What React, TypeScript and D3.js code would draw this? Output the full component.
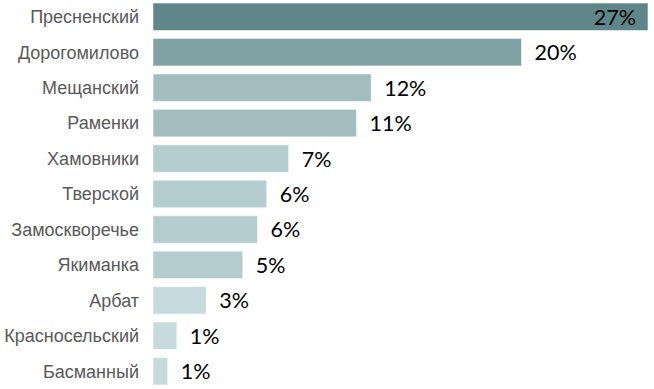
import React, { useEffect, useRef } from "react";
import * as d3 from "d3";

const districts = [
  "Пресненский",
  "Дорогомилово",
  "Мещанский",
  "Раменки",
  "Хамовники",
  "Тверской",
  "Замоскворечье",
  "Якиманка",
  "Арбат",
  "Красносельский",
  "Басманный",
];
const shares = [27, 20.1, 11.9, 11.1, 7.4, 6.2, 5.7, 4.9, 2.9, 1.3, 0.8];

const W = 654;
const H = 389;

const App = () => {
  const svgRef = useRef<SVGSVGElement>(null);

  useEffect(() => {
    const svg = d3.select(svgRef.current);
    svg.selectAll("*").remove();

    const y = d3.scaleBand<string>().domain(districts).range([3, 385]).paddingInner(0.224).paddingOuter(0);
    const x = d3.scaleLinear().domain([0, 27]).range([153, 648]);

    // colour steps by value, darker for the big ones
    const color = d3
      .scaleThreshold<number, string>()
      .domain([4, 10, 15, 25])
      .range(["#c7dbde", "#b5cdcf", "#a3bcbe", "#7fa3a4", "#5f8789"]);

    const rows = districts.map((name, i) => ({ name, value: shares[i] }));

    svg
      .append("g")
      .selectAll("rect")
      .data(rows)
      .join("rect")
      .attr("x", x(0))
      .attr("y", (d) => y(d.name)!)
      .attr("width", (d) => x(d.value) - x(0))
      .attr("height", y.bandwidth())
      .attr("fill", (d) => color(d.value))
      .attr("stroke", "#ffffff")
      .attr("stroke-opacity", 0.55)
      .attr("stroke-width", 1);

    svg
      .append("g")
      .selectAll("text")
      .data(rows)
      .join("text")
      .attr("x", 139)
      .attr("y", (d) => y(d.name)! + y.bandwidth() / 2)
      .attr("dy", "0.35em")
      .attr("text-anchor", "end")
      .style("font", "18px 'Liberation Sans', Arial, sans-serif")
      .attr("fill", "#595959")
      .text((d) => d.name);

    svg
      .append("g")
      .selectAll("text")
      .data(rows)
      .join("text")
      .attr("x", (d, i) => (i === 0 ? x(d.value) - 12 : x(d.value) + 13))
      .attr("y", (d) => y(d.name)! + y.bandwidth() / 2)
      .attr("dy", "0.37em")
      .attr("text-anchor", (d, i) => (i === 0 ? "end" : "start"))
      .style("font", "21.5px Lato, 'Open Sans', sans-serif")
      .attr("fill", "#000")
      .text((d) => `${Math.round(d.value)}%`);
  }, []);

  return (
    <svg
      ref={svgRef}
      width={W}
      height={H}
      style={{ position: "absolute", left: 0, top: 0, background: "#fff" }}
    />
  );
};

export default App;
